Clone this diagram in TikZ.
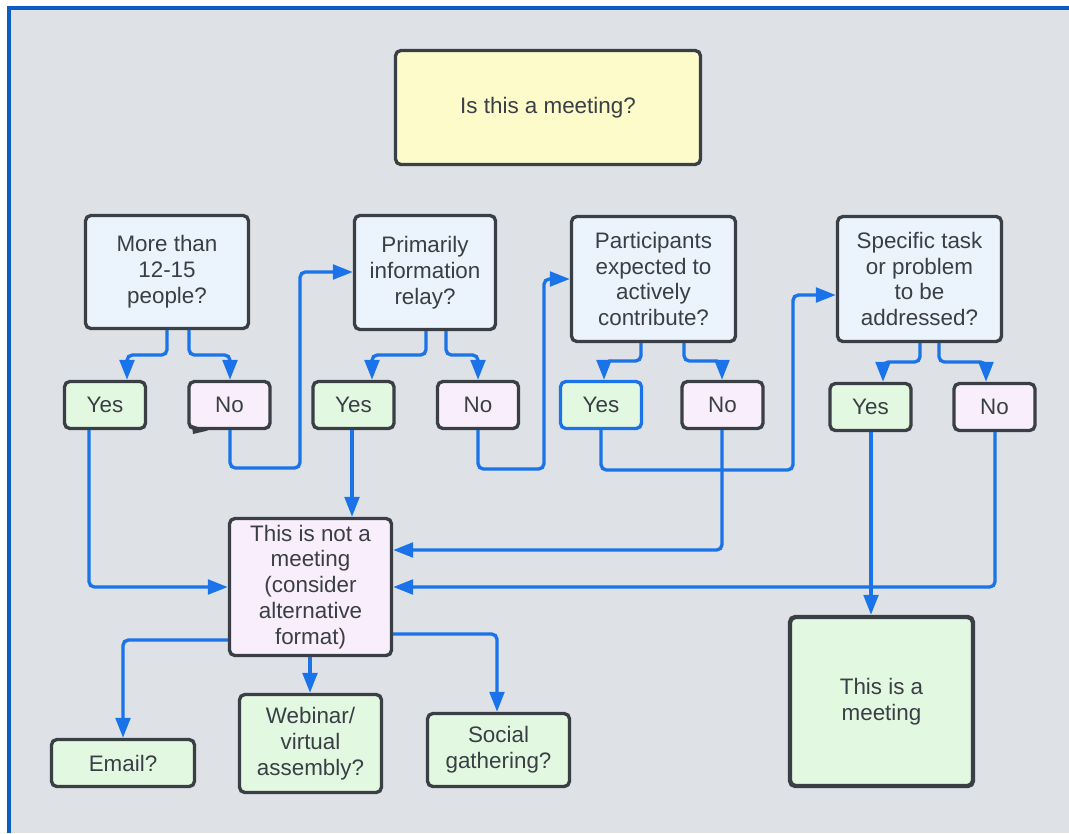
\documentclass[tikz,border=0pt]{standalone}
\usepackage{fontspec}
\setmainfont{Liberation Sans}
\usetikzlibrary{arrows.meta}
\definecolor{bgc}{HTML}{DEE2E6}
\definecolor{framec}{HTML}{0B5CC4}
\definecolor{strokec}{HTML}{3A3F46}
\definecolor{textc}{HTML}{3A3F46}
\definecolor{yelc}{HTML}{FDFBCA}
\definecolor{qc}{HTML}{EBF3FC}
\definecolor{greenc}{HTML}{E3F8E1}
\definecolor{pinkc}{HTML}{F8EEFC}
\definecolor{arrc}{HTML}{1A73E8}
\begin{document}
\begin{tikzpicture}[x=0.75pt,y=-0.75pt,
  box/.style={draw=strokec, line width=2.5pt, rounded corners=4pt, inner sep=0pt, align=center, text=textc, font=\fontsize{16.8}{19.4}\selectfont},
  qbox/.style={box, fill=qc},
  ybox/.style={box, fill=greenc},
  nbox/.style={box, fill=pinkc},
  yn/.style={minimum width=60.75pt, minimum height=35.25pt},
  arr/.style={draw=arrc, line width=2.5pt, rounded corners=4pt, -{Triangle[length=15pt,width=11pt]}}
]
\useasboundingbox (0,0) rectangle (1069,833);
\fill[white] (0,0) rectangle (1069,833);
\fill[bgc] (8,8) rectangle (1069,833);
\draw[framec, line width=3pt] (8.5,833) -- (8.5,8) -- (1069,8);

\node[box, fill=yelc, minimum width=228.75pt, minimum height=85.5pt] (top) at (548,107.5) {Is this a meeting?};
\node[qbox, minimum width=122.25pt, minimum height=84.75pt] (q1) at (167,272) {More than\\12-15\\people?};
\node[qbox, minimum width=105.75pt, minimum height=85.5pt] (q2) at (425,272.5) {Primarily\\information\\relay?};
\node[qbox, minimum width=123pt, minimum height=93.75pt] (q3) at (653.5,279) {Participants\\expected to\\actively\\contribute?};
\node[qbox, minimum width=123pt, minimum height=93.75pt] (q4) at (919.5,279) {Specific task\\or problem\\to be\\addressed?};

\node[ybox, yn] (yes1) at (105,405) {Yes};
\node[nbox, yn] (no1) at (229.5,405) {No};
\node[ybox, yn] (yes2) at (353.5,405) {Yes};
\node[nbox, yn] (no2) at (478,405) {No};
\node[ybox, yn, draw=arrc] (yes3) at (601,405) {Yes};
\node[nbox, yn] (no3) at (722.5,405) {No};
\node[ybox, yn] (yes4) at (870.5,407) {Yes};
\node[nbox, yn] (no4) at (994.5,407) {No};

\node[nbox, minimum width=121.5pt, minimum height=102.75pt] (notm) at (310.5,587) {This is not a\\meeting\\(consider\\alternative\\format)};
\node[ybox, line width=3.3pt, minimum width=137.25pt, minimum height=126.75pt] (ism) at (881.5,701.5) {This is a\\meeting};
\node[ybox, minimum width=107.25pt, minimum height=35.25pt] (email) at (123,763) {Email?};
\node[ybox, minimum width=106.5pt, minimum height=73.5pt] (web) at (310.5,743.5) {Webinar/\\virtual\\assembly?};
\node[ybox, minimum width=106.5pt, minimum height=54.75pt] (social) at (498.5,750) {Social\\gathering?};

\fill[strokec] (192,425) -- (208,430.5) -- (193,434) -- cycle;

\draw[arr] (167,0 |- q1.south) -- (167,355) -- (127,355) -- (127,0 |- yes1.north);
\draw[arr] (189,0 |- q1.south) -- (189,355) -- (230,355) -- (230,0 |- no1.north);
\draw[arr] (230,0 |- no1.south) -- (230,468) -- (300,468) -- (300,272) -- (q2.west |- 0,272);
\draw[arr] (89,0 |- yes1.south) -- (89,587) -- (notm.west |- 0,587);
\draw[arr] (352,0 |- yes2.south) -- (352,0 |- notm.north);
\draw[arr] (426,0 |- q2.south) -- (426,355) -- (372,355) -- (372,0 |- yes2.north);
\draw[arr] (446,0 |- q2.south) -- (446,355) -- (478,355) -- (478,0 |- no2.north);
\draw[arr] (478,0 |- no2.south) -- (478,469) -- (544,469) -- (544,279) -- (q3.west |- 0,279);
\draw[arr] (641,0 |- q3.south) -- (641,361) -- (604,361) -- (604,0 |- yes3.north);
\draw[arr] (684,0 |- q3.south) -- (684,361) -- (722,361) -- (722,0 |- no3.north);
\draw[arr] (601,0 |- yes3.south) -- (601,470) -- (793,470) -- (793,295) -- (q4.west |- 0,295);
\draw[arr] (722,0 |- no3.south) -- (722,550) -- (notm.east |- 0,550);
\draw[arr] (920,0 |- q4.south) -- (920,362) -- (883,362) -- (883,0 |- yes4.north);
\draw[arr] (939,0 |- q4.south) -- (939,362) -- (986,362) -- (986,0 |- no4.north);
\draw[arr] (871,0 |- yes4.south) -- (871,0 |- ism.north);
\draw[arr] (995,0 |- no4.south) -- (995,587) -- (notm.east |- 0,587);
\draw[arr] (notm.west |- 0,640) -- (123,640) -- (123,0 |- email.north);
\draw[arr] (310,0 |- notm.south) -- (310,0 |- web.north);
\draw[arr] (notm.east |- 0,634) -- (497,634) -- (497,0 |- social.north);
\end{tikzpicture}
\end{document}
